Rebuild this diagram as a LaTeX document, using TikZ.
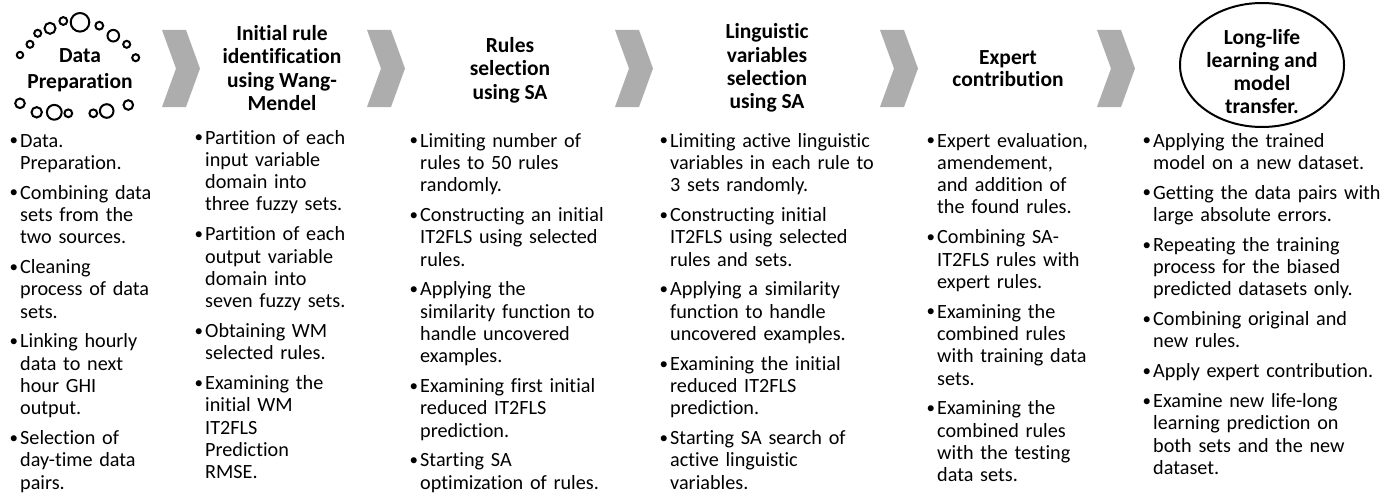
\documentclass[tikz,border=0pt]{standalone}
\usepackage{fontspec}
\setmainfont{Carlito}[Ligatures=NoCommon]
\usetikzlibrary{shapes.geometric}
\definecolor{chev}{RGB}{173,173,173}
\newcommand\smallbullet{\raisebox{1.2pt}{\fontsize{17}{17}\selectfont\textbullet}}
\newcommand\itm[1]{\par\hangindent=10pt\hangafter=1\noindent\makebox[10pt][l]{\hspace{-0.5pt}\smallbullet}\strut#1}
\newcommand\nl{\hfil\break}
\newcommand\listsetup{\setlength{\parskip}{7.5pt}\setlength{\parindent}{0pt}}
\newcommand\chevronat[1]{\fill[chev] (#1,30) -- ++(24,0) -- ++(14,38.5) -- ++(-14,38.5) -- ++(-24,0) -- ++(14,-38.5) -- cycle;}
\tikzset{
  listbox/.style={anchor=north west, inner sep=0pt, text width=#1, font=\fontsize{20.2}{22.3}\selectfont},
  titlebox/.style={align=center, inner sep=0pt, font=\fontsize{21.5}{23.3}\selectfont\bfseries},
  bub/.style={draw=black, line width=2pt},
}
\begin{document}
\begin{tikzpicture}[x=1pt,y=-1pt]
\useasboundingbox (0,0) rectangle (1396,495);

% bubbles around "Data Preparation"
\foreach \cx/\cy/\r in {20/55/3.2, 30/44.3/3.5, 37.7/33.3/3.5, 50/28.3/5.5, 63.3/21/3.9, 80/22.3/9.3, 99.3/25.7/3.9, 113.3/35.7/5.8, 126.7/44.3/3.5, 135.7/57.7/3.5,
  20/103.3/4.8, 36.7/112.3/5.2, 54.3/112.3/7.4, 68.3/113.3/3.9, 93.3/113.3/3.9, 106.7/111/6.8, 128.3/105/4.8}
  \draw[bub] (\cx,\cy) circle[radius=\r pt];

% chevrons
\chevronat{162}
\chevronat{367}
\chevronat{615}
\chevronat{880}
\chevronat{1097}

% titles
\node[titlebox, font=\fontsize{21.5}{25.6}\selectfont\bfseries] (t1) at (80,70) {Data\\Preparation};
\node[titlebox] (t2) at (282,68) {Initial rule\\identification\\using Wang-\\Mendel};
\node[titlebox] (t3) at (510,70) {Rules\\selection\\using SA};
\node[titlebox] (t4) at (767,68) {Linguistic\\variables\\selection\\using SA};
\node[titlebox, font=\fontsize{21.5}{22}\selectfont\bfseries] (t5) at (1008,69) {Expert\\contribution};
\node[draw=black, line width=2pt, ellipse, minimum width=164pt, minimum height=124pt, inner sep=0pt] (ell) at (1262,65) {};
\node[titlebox, font=\fontsize{21.5}{23}\selectfont\bfseries] (t6) at (1262,72) {Long-life\\learning and\\model\\transfer.};

% bullet lists
\node[listbox=190pt] (l1) at (10,117) {\listsetup
\itm{Data.\nl Preparation.}
\itm{Combining data\nl sets from the\nl two sources.}
\itm{Cleaning\nl process of data\nl sets.}
\itm{Linking hourly\nl data to next\nl hour GHI\nl output.}
\itm{Selection of\nl day-time data\nl pairs.}\par};

\node[listbox=200pt] (l2) at (195,114) {\listsetup
\itm{Partition of each\nl input variable\nl domain into\nl three fuzzy sets.}
\itm{Partition of each\nl output variable\nl domain into\nl seven fuzzy sets.}
\itm{Obtaining WM\nl selected rules.}
\itm{Examining the\nl initial WM\nl IT2FLS\nl Prediction\nl RMSE.}\par};

\node[listbox=240pt] (l3) at (410,117) {\listsetup
\itm{Limiting number of\nl rules to 50 rules\nl randomly.}
\itm{Constructing an initial\nl IT2FLS using selected\nl rules.}
\itm{Applying the\nl similarity function to\nl handle uncovered\nl examples.}
\itm{Examining first initial\nl reduced IT2FLS\nl prediction.}
\itm{Starting SA\nl optimization of rules.}\par};

\node[listbox=250pt] (l4) at (660,117) {\listsetup
\itm{Limiting active linguistic\nl variables in each rule to\nl 3 sets randomly.}
\itm{Constructing initial\nl IT2FLS using selected\nl rules and sets.}
\itm{Applying a similarity\nl function to handle\nl uncovered examples.}
\itm{Examining the initial\nl reduced IT2FLS\nl prediction.}
\itm{Starting SA search of\nl active linguistic\nl variables.}\par};

\node[listbox=200pt] (l5) at (927,117) {\listsetup
\itm{Expert evaluation,\nl amendement,\nl and addition of\nl the found rules.}
\itm{Combining SA-\nl IT2FLS rules with\nl expert rules.}
\itm{Examining the\nl combined rules\nl with training data\nl sets.}
\itm{Examining the\nl combined rules\nl with the testing\nl data sets.}\par};

\node[listbox=250pt] (l6) at (1143,117) {\listsetup
\itm{Applying the trained\nl model on a new dataset.}
\itm{Getting the data pairs with\nl large absolute errors.}
\itm{Repeating the training\nl process for the biased\nl predicted datasets only.}
\itm{Combining original and\nl new rules.}
\itm{Apply expert contribution.}
\itm{Examine new life-long\nl learning prediction on\nl both sets and the new\nl dataset.}\par};
\end{tikzpicture}
\end{document}
